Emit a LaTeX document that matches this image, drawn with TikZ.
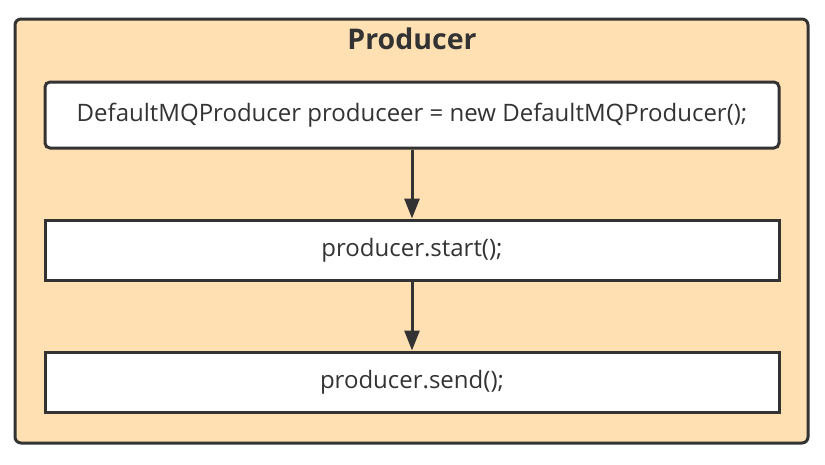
\documentclass[tikz,border=0pt]{standalone}
\usepackage{fontspec}
\setmainfont{Open Sans}
\usetikzlibrary{arrows.meta}
\definecolor{peach}{HTML}{FFE0B2}
\definecolor{stroke}{HTML}{333333}
\begin{document}
\begin{tikzpicture}[x=1pt,y=-1pt,
  container/.style={draw=stroke, line width=3pt, fill=peach, rounded corners=6pt},
  codebox/.style={draw=stroke, line width=3pt, fill=white, minimum width=734pt, inner sep=0pt, text=stroke, font=\fontsize{24}{28}\selectfont},
  flow/.style={draw=stroke, line width=3pt, -{Triangle[length=20pt,width=15pt]}}]
\useasboundingbox (0,0) rectangle (825,464);
\draw[container] (15,19) rectangle (808,443);
\node[font=\bfseries\fontsize{28.5}{32}\selectfont, text=stroke] (title) at (412,39) {Producer};
\node[codebox, rounded corners=5pt, minimum height=66pt] (b1) at (412,115) {\raisebox{-2pt}{DefaultMQProducer produceer = new DefaultMQProducer();}};
\node[codebox, minimum height=60pt] (b2) at (412,250) {\raisebox{-1pt}{producer.start();}};
\node[codebox, minimum height=60pt] (b3) at (412,382) {\raisebox{-1pt}{producer.send();}};
\draw[flow] (b1.south) -- (b2.north);
\draw[flow] (b2.south) -- (b3.north);
\end{tikzpicture}
\end{document}
